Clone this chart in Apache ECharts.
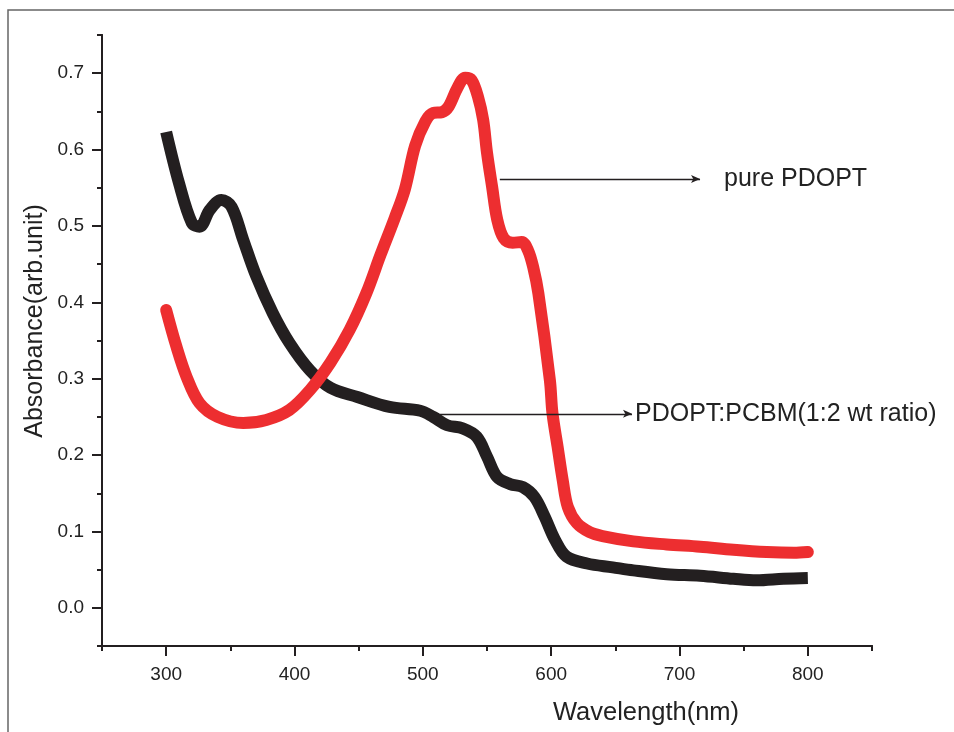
<!DOCTYPE html>
<html>
<head>
<meta charset="utf-8">
<script src="https://cdn.jsdelivr.net/npm/echarts@6/dist/echarts.min.js"></script>
<style>html,body{margin:0;padding:0;background:#fff}#c{width:954px;height:732px}</style>
</head>
<body>
<div id="c"></div>
<script>
// Blend film (PDOPT:PCBM) — black
var wlBlend = [300,310,320,326,334,343,351,360,370,383,396,412,428,449,474,498,508,519,531,542,550,558,568,578,587,595,603,612,628,648,664,690,716,742,760,781,800];
var absBlend = [0.623,0.556,0.504,0.499,0.521,0.534,0.525,0.482,0.435,0.386,0.347,0.311,0.288,0.276,0.263,0.258,0.250,0.239,0.235,0.224,0.198,0.171,0.162,0.158,0.145,0.119,0.089,0.067,0.058,0.053,0.049,0.044,0.042,0.038,0.036,0.038,0.039];
// Pure PDOPT — red
var wlPure = [300,308,316,326,340,360,378,396,412,428,443,456,467,478,486,494,502,508,515,520,527,533,538,543,547,550,554,558,563,570,577,582,586,590,599,601,605,609,613,620,630,640,664,690,716,742,768,789,800];
var absPure = [0.390,0.342,0.302,0.268,0.250,0.242,0.246,0.259,0.285,0.321,0.364,0.412,0.462,0.510,0.548,0.605,0.637,0.648,0.649,0.656,0.681,0.694,0.691,0.669,0.639,0.596,0.551,0.508,0.484,0.478,0.479,0.468,0.446,0.412,0.298,0.255,0.211,0.167,0.132,0.111,0.099,0.094,0.087,0.083,0.080,0.076,0.073,0.072,0.073];

var xMajor = [300,400,500,600,700,800];
var xMinor = [250,350,450,550,650,750,850];
var yMajor = [0.0,0.1,0.2,0.3,0.4,0.5,0.6,0.7];
var yMinor = [-0.05,0.05,0.15,0.25,0.35,0.45,0.55,0.65,0.75];

var xName = 'Wavelength(nm)';
var yName = 'Absorbance(arb.unit)';
var labelPure = 'pure PDOPT';
var labelBlend = 'PDOPT:PCBM(1:2 wt ratio)';
// annotation arrows (data coordinates)
var arrowPure = [[560, 0.5615], [716, 0.5615]];
var arrowBlend = [[513, 0.254], [663, 0.254]];

function zip(a, b) { return a.map(function (v, i) { return [v, b[i]]; }); }

var ink = '#231F20';
var red = '#ED2E30';
var font = 'Liberation Sans, Arial, sans-serif';

function xAx(ticks, len, labels) {
  return {
    type: 'value', min: 250, max: 850, position: 'bottom',
    axisLine: { show: true, onZero: false, lineStyle: { color: ink, width: 2 } },
    axisTick: { show: true, customValues: ticks, length: len, lineStyle: { color: ink, width: 2 } },
    axisLabel: labels ? { show: true, customValues: labels, margin: 19, color: '#222', fontSize: 19, fontFamily: font } : { show: false },
    splitLine: { show: false }
  };
}
function yAx(ticks, len, labels) {
  return {
    type: 'value', min: -0.05, max: 0.75, position: 'left',
    axisLine: { show: true, onZero: false, lineStyle: { color: ink, width: 2 } },
    axisTick: { show: true, customValues: ticks, length: len, lineStyle: { color: ink, width: 2 } },
    axisLabel: labels ? { show: true, customValues: labels, margin: 18, color: '#222', fontSize: 19, fontFamily: font,
      formatter: function (v) { return v.toFixed(1); } } : { show: false },
    splitLine: { show: false }
  };
}

var chart = echarts.init(document.getElementById('c'), null, { renderer: 'canvas' });
chart.setOption({
  animation: false,
  backgroundColor: '#fff',
  grid: { left: 102, right: 82, top: 35, bottom: 86, containLabel: false },
  xAxis: [xAx(xMajor, 10, xMajor), xAx(xMinor, 5, null)],
  yAxis: [yAx(yMajor, 10, yMajor), yAx(yMinor, 5, null)],
  graphic: [
    { type: 'rect', shape: { x: 8, y: 10, width: 1000, height: 800 }, style: { fill: 'none', stroke: '#666', lineWidth: 1.5 }, silent: true, z: -1 },
    { type: 'text', x: 35, y: 321, rotation: Math.PI / 2, style: { text: yName, fontSize: 25, fontFamily: font, fill: '#222', textAlign: 'center', textVerticalAlign: 'middle' } },
    { type: 'text', x: 646, y: 713, style: { text: xName, fontSize: 25.5, fontFamily: font, fill: '#222', textAlign: 'center', textVerticalAlign: 'middle' } }
  ],
  series: [
    {
      type: 'line', name: 'blend', xAxisIndex: 0, yAxisIndex: 0,
      data: zip(wlBlend, absBlend), showSymbol: false, smooth: 0.35,
      lineStyle: { color: ink, width: 12, cap: 'butt', join: 'round' },
      emphasis: { disabled: true }, z: 2,
      markLine: {
        silent: true, symbol: ['none', 'arrow'], symbolSize: [6, 9],
        lineStyle: { color: ink, width: 1.3, type: 'solid' },
        label: { show: true, position: 'end', distance: 3, formatter: labelBlend, color: '#222', fontSize: 25, fontFamily: font },
        data: [[{ coord: arrowBlend[0] }, { coord: arrowBlend[1] }]],
        z: 5
      }
    },
    {
      type: 'line', name: 'pure', xAxisIndex: 0, yAxisIndex: 0,
      data: zip(wlPure, absPure), showSymbol: false, smooth: 0.35,
      lineStyle: { color: red, width: 12, cap: 'round', join: 'round' },
      emphasis: { disabled: true }, z: 3,
      markLine: {
        silent: true, symbol: ['none', 'arrow'], symbolSize: [6, 9],
        lineStyle: { color: ink, width: 1.3, type: 'solid' },
        label: { show: true, position: 'end', distance: 24, formatter: labelPure, color: '#222', fontSize: 25, fontFamily: font },
        data: [[{ coord: arrowPure[0] }, { coord: arrowPure[1] }]],
        z: 5
      }
    }
  ]
});
</script>
</body>
</html>
